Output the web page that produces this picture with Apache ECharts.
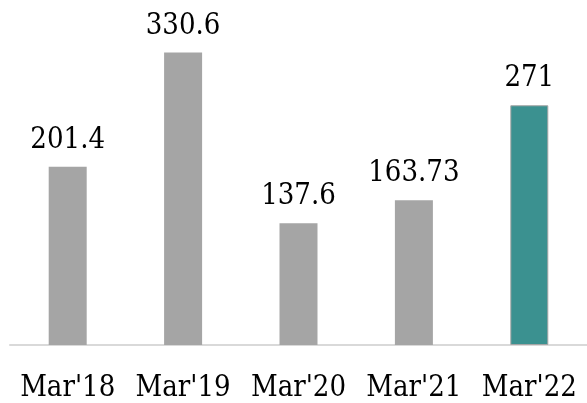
<!DOCTYPE html>
<html>
<head>
<meta charset="utf-8">
<script src="https://cdn.jsdelivr.net/npm/echarts@6/dist/echarts.min.js"></script>
<style>
  html, body { margin: 0; padding: 0; background: #fff; }
  #main { width: 587px; height: 403px; }
</style>
</head>
<body>
<div id="main"></div>
<script>
// data
var years = ["Mar'18", "Mar'19", "Mar'20", "Mar'21", "Mar'22"];
var values = [201.4, 330.6, 137.6, 163.73, 271];
var labels = ['201.4', '330.6', '137.6', '163.73', '271'];
var barColors = ['#a5a5a5', '#a5a5a5', '#a5a5a5', '#a5a5a5', '#3b9190'];

var fontName = '"DejaVu Serif Condensed", "DejaVu Serif", serif';

var myChart = echarts.init(document.getElementById('main'));
var option = {
    animation: false,
    grid: {
        left: 10,
        top: 0,
        width: 587,
        height: 347
    },
    xAxis: {
        type: 'category',
        data: years,
        axisTick: { show: false },
        axisLine: { lineStyle: { color: '#d9d9d9', width: 2 } },
        axisLabel: {
            interval: 0,
            hideOverlap: false,
            color: '#000',
            fontFamily: fontName,
            fontSize: 29,
            margin: 29
        }
    },
    yAxis: {
        type: 'value',
        min: 0,
        max: 390,
        show: false,
        splitLine: { show: false }
    },
    series: [{
        type: 'bar',
        barWidth: 38,
        data: values.map(function (v, i) {
            return {
                value: v,
                itemStyle: {
                    color: barColors[i],
                    borderColor: i === 4 ? '#a5a5a5' : barColors[i],
                    borderWidth: i === 4 ? 1 : 0
                }
            };
        }),
        label: {
            show: true,
            position: 'top',
            distance: 12,
            color: '#000',
            fontFamily: fontName,
            fontSize: 29,
            formatter: function (p) { return labels[p.dataIndex]; }
        }
    }]
};
myChart.setOption(option);
</script>
</body>
</html>
